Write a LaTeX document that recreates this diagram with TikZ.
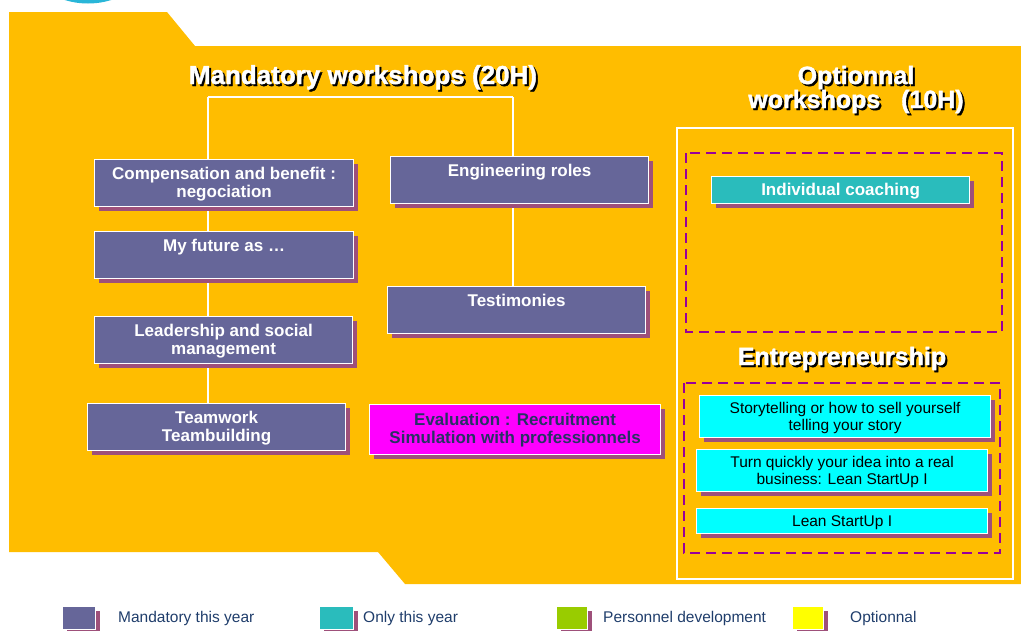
\documentclass[tikz,border=0pt]{standalone}
\usepackage{fontspec}
\setmainfont{Liberation Sans}
\newfontfamily\headfont{Liberation Sans}[UprightFont={* Bold}, FakeBold=1.5]
\usetikzlibrary{positioning, shadows}

\definecolor{bgorange}{RGB}{255,189,0}
\definecolor{mandcol}{RGB}{102,102,153}
\definecolor{onlycol}{RGB}{42,188,188}
\definecolor{optcyan}{RGB}{0,255,255}
\definecolor{evalcol}{RGB}{255,0,255}
\definecolor{shadowcol}{RGB}{158,80,122}
\definecolor{dashcol}{RGB}{153,0,153}
\definecolor{legtext}{RGB}{31,61,107}
\definecolor{evaltext}{RGB}{40,50,100}
\definecolor{devcol}{RGB}{153,204,0}
\definecolor{optyellow}{RGB}{255,255,0}
\definecolor{capcyan}{RGB}{41,182,216}

\tikzset{
  wbox/.style={draw=white, line width=1.2pt, inner xsep=4pt, align=center,
    anchor=north west,
    drop shadow={shadow xshift=4pt, shadow yshift=-4pt, fill=shadowcol, opacity=1}},
  mand/.style={wbox, fill=mandcol, text=white, minimum height=47,
    inner ysep=8pt, text height=12pt, text depth=19pt,
    font=\bfseries\fontsize{17}{18}\selectfont},
  mandtwo/.style={mand, text height=30pt, text depth=1pt},
  opt/.style={wbox, fill=optcyan, text=black, inner ysep=7pt,
    minimum height=42, text height=28pt, text depth=0pt,
    font=\fontsize{15.5}{17}\selectfont},
  legbox/.style={wbox, minimum height=23, inner sep=0pt},
  legtxt/.style={anchor=base west, inner sep=0pt, text=legtext,
    font=\fontsize{15.5}{17}\selectfont},
  tree/.style={draw=white, line width=1.2pt},
  dashbox/.style={draw=dashcol, line width=1.8pt, dash pattern=on 10pt off 6pt},
  headtext/.style={text=white, align=center, anchor=base,
    font=\headfont\fontsize{25}{24}\selectfont},
  headshadow/.style={headtext, text=black, xshift=2pt, yshift=-2pt}
}

% heading with black drop shadow
\newcommand{\heading}[3]{%
  \node[headshadow] at (#2) {#3};
  \node[headtext] (#1) at (#2) {#3};}

\begin{document}
\begin{tikzpicture}[x=1pt, y=-1pt]
    \useasboundingbox (0,0) rectangle (1021,630);
    \begin{scope}
      \clip (0,0) rectangle (1021,630);
      \fill[capcyan] (88,-75) circle (78.5pt);
    \end{scope}
    \fill[bgorange] (9,12) -- (167,12) -- (195,46) -- (1021,46) -- (1021,584)
      -- (405,584) -- (378,552) -- (9,552) -- cycle;

    % tree lines
    \coordinate (tl) at (208,97);
    \coordinate (tr) at (513,97);
    \coordinate (bl) at (208,403);
    \coordinate (br) at (513,286);
    \path[tree]
      (tl) edge (tr) edge (bl)
      (tr) edge (br);

    % mandatory workshops
    \coordinate (mt) at (363,84);
    \heading{mandtitle}{mt}{\fontsize{26}{24}\selectfont Mandatory workshops (20H)}
    \node[mandtwo, minimum width=259] (comp) at (94,159) {Compensation and benefit :\\negociation};
    \node[mand, minimum width=259] (future) at (94,231) {My future as …};
    \node[mandtwo, minimum width=258] (lead) at (94,316) {Leadership and social\\management};
    \node[mandtwo, minimum width=258] (team) at (87,403) {Teamwork\\Teambuilding};
    \node[mand, minimum width=258] (eng) at (390,156) {Engineering roles};
    \node[mand, minimum width=258] (test) at (387,286) {Testimonies};
    \node[mandtwo, fill=evalcol, text=evaltext, minimum width=291, minimum height=50,
      inner ysep=10pt, text height=29pt, text depth=1pt] (eval) at (369,404)
      {Evaluation : Recruitment\\Simulation with professionnels};

    % optional workshops
    \draw[white, line width=1.2pt] (677,128) rectangle (1013,579);
    \coordinate (ot) at (856,108);
    \heading{opttitle}{ot}{Optionnal\\workshops~~~(10H)}
    \draw[dashbox] (686,153) rectangle (1002,332);
    \node[mand, fill=onlycol, minimum width=258, minimum height=27, inner ysep=3pt,
      text height=16pt, text depth=5pt] (coach) at (711,176) {Individual coaching};
    \coordinate (et) at (842,365);
    \heading{entre}{et}{Entrepreneurship}
    \draw[dashbox] (684,383) rectangle (1000,553);
    \node[opt, minimum width=291] (story) at (699,395)
      {Storytelling or how to sell yourself\\telling your story};
    \node[opt, minimum width=291] (idea) at (696,449)
      {Turn quickly your idea into a real\\business: Lean StartUp I};
    \node[opt, minimum width=291, minimum height=25, inner ysep=3pt,
      text height=15pt, text depth=4pt] (lean) at (696,508) {Lean StartUp I};

    % legend
    \node[legbox, fill=mandcol, minimum width=33] (lmand) at (62,606) {};
    \node[legtxt] (tmand) at (118,622.5) {Mandatory this year};
    \node[legbox, fill=onlycol, minimum width=34] (lonly) at (319,606) {};
    \node[legtxt] (tonly) at (363,622.5) {Only this year};
    \node[legbox, fill=devcol, minimum width=31] (ldev) at (556,606) {};
    \node[legtxt] (tdev) at (603,622.5) {Personnel development};
    \node[legbox, fill=optyellow, minimum width=31] (lopt) at (792,606) {};
    \node[legtxt] (topt) at (850,622.5) {Optionnal};
\end{tikzpicture}
\end{document}
